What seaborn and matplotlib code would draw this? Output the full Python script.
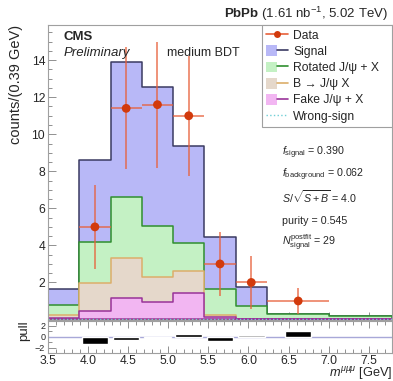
import numpy as np
import pandas as pd
import matplotlib
matplotlib.use("Agg")
import matplotlib.pyplot as plt
import seaborn as sns
from matplotlib.patches import Patch
from matplotlib.lines import Line2D
from matplotlib.legend_handler import HandlerTuple
from matplotlib.ticker import MultipleLocator, FixedLocator

# ---- binning (GeV) ----
bin_edges = [3.5, 3.89, 4.28, 4.67, 5.06, 5.45, 5.84, 6.23, 7.01, 7.79]

# ---- fitted template yields per bin (counts / 0.39 GeV) ----
fake_jpsi    = [0.10, 0.46, 1.15, 0.96, 1.42, 0.15, 0.02, 0.00, 0.04]
b_to_jpsi    = [0.15, 1.50, 2.18, 1.33, 1.21, 0.07, 0.01, 0.00, 0.00]
rotated_jpsi = [0.54, 2.22, 3.29, 2.78, 1.50, 1.43, 0.72, 0.30, 0.15]
signal       = [0.86, 4.45, 7.28, 7.46, 5.22, 2.82, 1.03, 0.00, 0.00]
wrong_sign   = [0.00, 0.00, 0.00, 0.00, 0.00, 0.00, 0.00, 0.00, 0.00]

# ---- data ----
data_x    = [4.085, 4.475, 4.865, 5.255, 5.645, 6.035, 6.62]
data_xerr = [0.195, 0.195, 0.195, 0.195, 0.195, 0.195, 0.39]
data_y    = [5.0, 11.4, 11.6, 11.0, 3.0, 2.0, 1.0]
data_yerr = [2.25, 3.3, 3.4, 3.25, 1.73, 1.41, 0.7]
pulls     = [-1.45, -0.65, -0.3, 0.55, -0.8, 0.3, 1.0]

# ---- fit summary ----
f_signal = "0.390"
f_background = "0.062"
s_over_sqrt = "4.0"
purity = "0.545"
n_signal = "29"

sns.set_style("ticks")
plt.rcParams["font.family"] = ["Liberation Sans", "DejaVu Sans"]
plt.rcParams["mathtext.fontset"] = "custom"
plt.rcParams["mathtext.rm"] = "Liberation Sans"
plt.rcParams["mathtext.it"] = "Liberation Sans:italic"
plt.rcParams["mathtext.bf"] = "Liberation Sans:bold"

W, H = 393, 381
fig = plt.figure(figsize=(W / 100, H / 100), dpi=100)

def fx(px):
    return px / W

def fy(py):
    return 1 - py / H

ax = fig.add_axes([fx(48), fy(319.5), fx(392) - fx(48), fy(25) - fy(319.5)])
axp = fig.add_axes([fx(48), fy(352.7), fx(392) - fx(48), fy(320.7) - fy(352.7)], sharex=ax)

edges = np.array(bin_edges)
centers = 0.5 * (edges[:-1] + edges[1:])

# stacked templates: draw cumulative layers from the top down
layers = [
    ("Signal", signal, "#b8b8f7", "#3a3a62"),
    ("Rotated J/\u03c8 + X", rotated_jpsi, "#c4f1c4", "#2f8f2f"),
    ("B \u2192 J/\u03c8 X", b_to_jpsi, "#e5d8cb", "#dcae6a"),
    ("Fake J/\u03c8 + X", fake_jpsi, "#f2b6f2", "#993399"),
]
comps = [np.array(v) for _, v, _, _ in layers]
for i, (name, _, fc, ec) in enumerate(layers):
    frame = pd.DataFrame({"m": centers, "w": np.sum(comps[i:], axis=0)})
    sns.histplot(data=frame, x="m", weights="w", bins=bin_edges, element="step",
                 fill=True, facecolor=fc, edgecolor=ec, linewidth=1.1, alpha=1,
                 ax=ax, legend=False)

ws = pd.DataFrame({"m": centers, "w": np.array(wrong_sign) + 0.02})
sns.histplot(data=ws, x="m", weights="w", bins=bin_edges, element="step",
             fill=False, color="#6fcfd6", linestyle=":", linewidth=1, ax=ax,
             legend=False)

# data points
ax.errorbar(data_x, data_y, xerr=data_xerr, yerr=data_yerr, fmt="none",
            ecolor="#e8603a", elinewidth=1.2, alpha=0.8, capsize=0, zorder=5)
sns.scatterplot(x=data_x, y=data_y, color="#d23a0c", s=40, edgecolor="none",
                ax=ax, zorder=6, legend=False)

ax.set_xlim(3.5, 7.79)
ax.set_ylim(0, 15.9)
ax.yaxis.set_major_locator(FixedLocator([2, 4, 6, 8, 10, 12, 14]))
ax.yaxis.set_minor_locator(MultipleLocator(0.5))
ax.xaxis.set_major_locator(MultipleLocator(0.5))
ax.xaxis.set_minor_locator(MultipleLocator(0.1))
ax.set_ylabel("counts/(0.39 GeV)", loc="top", fontsize=10.5)
ax.yaxis.set_label_coords(-0.074, 1.0)
ax.tick_params(axis="x", labelbottom=False)

# pull panel
pull_colors = ["black", "black", "black", "black", "black", "#999999", "black"]
axp.axhline(0, color="#a8a8d8", lw=1, zorder=1)
axp.bar(data_x, pulls, width=0.33, color=pull_colors, zorder=2)
axp.set_ylim(-2.95, 2.9)
axp.yaxis.set_major_locator(FixedLocator([-2, 0, 2]))
axp.yaxis.set_minor_locator(MultipleLocator(1))
axp.set_ylabel("pull", loc="top", fontsize=9.5)
axp.yaxis.set_label_coords(-0.052, 1.0)
axp.set_xlabel("$m^{\\mu\\mu\\mu}$ [GeV]", loc="right", fontsize=9.2)
axp.xaxis.set_label_coords(1.0, -(365.5 - 352.7) / 32.0)

for a in (ax, axp):
    for s in a.spines.values():
        s.set_color("#a0a0a0")
        s.set_linewidth(0.8)
    a.tick_params(which="both", direction="in", color="#909090", width=0.7)
    a.tick_params(which="major", length=6)
    a.tick_params(which="minor", length=3)
ax.tick_params(axis="both", labelsize=8.7, pad=2)
axp.tick_params(axis="x", which="both", top=True, labelsize=8.7, pad=1.5)
axp.tick_params(axis="y", labelsize=6.5, pad=2)
axp.tick_params(axis="x", which="major", length=5)

# legend
handles = [Line2D([], [], color="#e8603a", marker="o", markerfacecolor="#d23a0c",
                  markeredgecolor="none", markersize=5, lw=1.2)]
labels = ["Data"]
for name, _, fc, ec in layers:
    handles.append((Patch(facecolor=fc, edgecolor="none"), Line2D([], [], color=ec, lw=1.2)))
    labels.append(name)
handles.append(Line2D([], [], color="#6fcfd6", linestyle=":", lw=1))
labels.append("Wrong-sign")
x0 = (262 - 48) / 344
leg = ax.legend(handles, labels, loc="upper left", bbox_to_anchor=(x0, 0, 1 - x0, 1),
                mode="expand", borderaxespad=0, fontsize=8.7, frameon=True,
                fancybox=False, framealpha=1, edgecolor="#a0a0a0",
                handlelength=1.8, handleheight=1.0, handletextpad=0.45,
                labelspacing=0.3, borderpad=0.35,
                handler_map={tuple: HandlerTuple(ndivide=None, pad=0)})
leg.get_frame().set_linewidth(0.8)

# header and annotations
fig.text(fx(388), fy(14), "$\\mathbf{PbPb}$ (1.61 nb$^{-1}$, 5.02 TeV)",
         ha="right", va="center", fontsize=9.5)
fig.text(fx(64), fy(36.5), "CMS", ha="left", va="center", fontsize=9.5,
         fontweight="bold")
fig.text(fx(64), fy(53), "Preliminary", ha="left", va="center", fontsize=9.5,
         style="italic")
fig.text(fx(167), fy(53), "medium BDT", ha="left", va="center", fontsize=9)

stats = [
    ("$f_{\\mathrm{signal}}$ = " + f_signal, 153),
    ("$f_{\\mathrm{background}}$ = " + f_background, 175),
    ("$S/\\sqrt{S+B}$ = " + s_over_sqrt, 197),
    ("purity = " + purity, 221),
    ("$N_{\\mathrm{signal}}^{\\mathrm{postfit}}$ = " + n_signal, 243),
]
for txt, ypx in stats:
    fig.text(fx(282), fy(ypx), txt, ha="left", va="center", fontsize=7.7)

fig.savefig("out.png", dpi=100)
